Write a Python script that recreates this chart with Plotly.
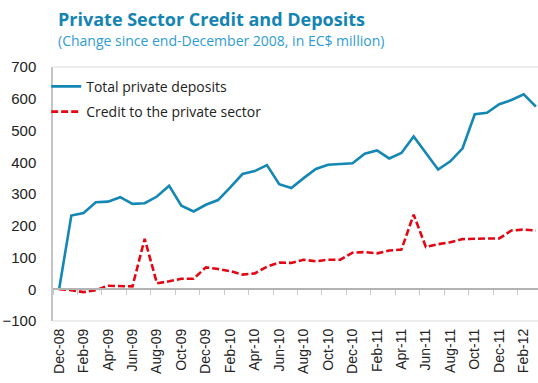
import plotly.graph_objects as go

# Monthly observations, Dec-08 .. Mar-12
months = [
    "Dec-08", "Jan-09", "Feb-09", "Mar-09", "Apr-09", "May-09", "Jun-09", "Jul-09",
    "Aug-09", "Sep-09", "Oct-09", "Nov-09", "Dec-09", "Jan-10", "Feb-10", "Mar-10",
    "Apr-10", "May-10", "Jun-10", "Jul-10", "Aug-10", "Sep-10", "Oct-10", "Nov-10",
    "Dec-10", "Jan-11", "Feb-11", "Mar-11", "Apr-11", "May-11", "Jun-11", "Jul-11",
    "Aug-11", "Sep-11", "Oct-11", "Nov-11", "Dec-11", "Jan-12", "Feb-12", "Mar-12",
]

# Change since end-December 2008, EC$ million
deposits = [0, 232, 240, 274, 276, 290, 269, 271, 292, 326,
            263, 245, 266, 281, 321, 363, 372, 391, 331, 319,
            350, 379, 392, 394, 397, 427, 437, 412, 429, 481,
            429, 377, 403, 444, 551, 556, 583, 596, 614, 575]
credit = [0, -3, -9, -3, 11, 10, 9, 159, 19, 25,
          33, 33, 69, 64, 57, 46, 50, 71, 84, 83,
          93, 88, 93, 93, 115, 117, 113, 122, 125, 235,
          133, 142, 148, 158, 160, 160, 160, 185, 188, 185]

y_ticks = [-100, 0, 100, 200, 300, 400, 500, 600, 700]

idx = list(range(len(months)))
label_idx = idx[::2]
label_txt = months[::2]

X_RANGE = [-0.5, 39.17]
Y_RANGE = [-100, 700]

fig = go.Figure()
fig.add_trace(go.Scatter(
    x=idx, y=deposits, mode="lines", name="Total private deposits",
    line=dict(color="#1487b4", width=2.6), legendgroup="a",
))
fig.add_trace(go.Scatter(
    x=idx, y=credit, mode="lines", name="Credit to the private sector",
    line=dict(color="#e30613", width=2.6, dash="7px,3px"), legendgroup="b",
))

# zero line with category tick marks (axis crossing at y = 0)
zero_pos = (0 - Y_RANGE[0]) / (Y_RANGE[1] - Y_RANGE[0])
fig.add_trace(go.Scatter(x=[None], y=[None], xaxis="x2", showlegend=False))

fig.update_layout(
    width=538, height=383,
    margin=dict(l=53, r=0, t=67, b=62),
    paper_bgcolor="white", plot_bgcolor="white",
    showlegend=True,
    legend=dict(
        x=-0.014, y=0.985, xanchor="left", yanchor="top",
        bgcolor="rgba(0,0,0,0)", tracegroupgap=4,
        font=dict(family="Open Sans", size=14, color="#222222"),
    ),
    xaxis=dict(
        range=X_RANGE, tickmode="array", tickvals=label_idx, ticktext=label_txt,
        tickangle=-90, showgrid=False, zeroline=False, showline=False, ticks="",
        tickfont=dict(family="Liberation Sans", size=14, color="#222222"),
        ticklabelstandoff=4,
    ),
    xaxis2=dict(
        range=X_RANGE, overlaying="x", anchor="free", position=zero_pos,
        showticklabels=False, showgrid=False, zeroline=False,
        showline=True, linecolor="#b3b3b3", linewidth=1.5,
        ticks="", tickmode="array", tickvals=[],
        minor=dict(ticks="outside", tick0=-0.5, dtick=2, ticklen=5,
                   tickcolor="#c8c8c8", tickwidth=1.2, showgrid=False),
    ),
    yaxis=dict(
        range=Y_RANGE, tickmode="array", tickvals=y_ticks,
        showgrid=False, zeroline=False,
        showline=True, linecolor="#c4c4c4", linewidth=1.5,
        ticks="", ticklabelstandoff=12,
        tickfont=dict(family="Liberation Sans", size=15, color="#222222"),
    ),
    shapes=[
        dict(type="line", xref="paper", yref="paper", x0=0, x1=1, y0=1, y1=1,
             line=dict(color="#dcdcdc", width=1.2)),
        dict(type="line", xref="paper", yref="paper", x0=0, x1=1, y0=0, y1=0,
             line=dict(color="#dcdcdc", width=1.2)),
    ],
    annotations=[
        dict(text="<b>Private Sector Credit and Deposits</b>", xref="paper", yref="paper",
             x=0.007, y=1.19, xanchor="left", yanchor="middle", showarrow=False,
             font=dict(family="Open Sans", size=18, color="#1384b4")),
        dict(text="(Change since end-December 2008, in EC$ million)", xref="paper", yref="paper",
             x=0.007, y=1.105, xanchor="left", yanchor="middle", showarrow=False,
             font=dict(family="Open Sans", size=14, color="#2e9cd4")),
    ],
)

fig.write_html("out.html")
